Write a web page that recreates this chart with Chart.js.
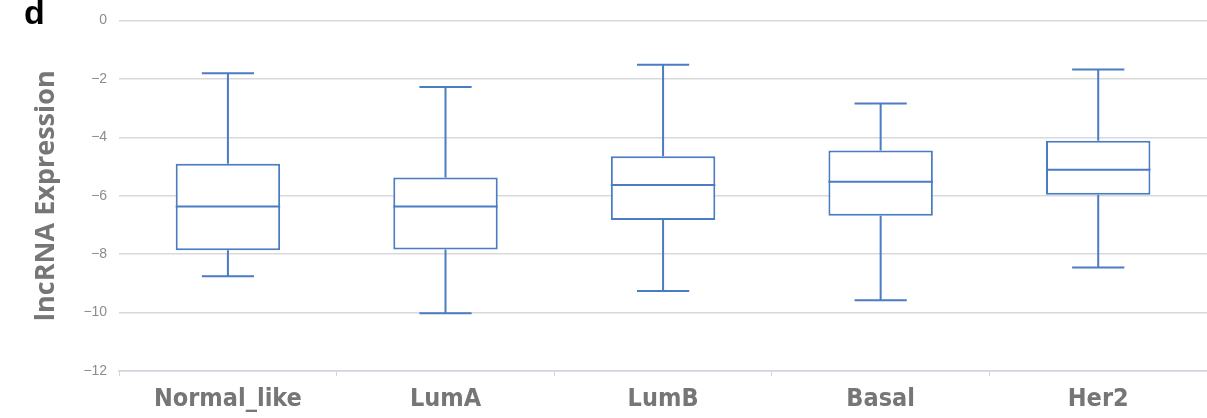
<!DOCTYPE html>
<html>
<head>
<meta charset="utf-8">
<script src="https://cdn.jsdelivr.net/npm/chart.js@4/dist/chart.umd.min.js"></script>
<style>
  html, body { margin: 0; padding: 0; background: #fff; }
  #wrap { position: relative; width: 1207px; height: 418px; }
  #panel { position: absolute; left: 24px; top: -7px; font: bold 34px "Liberation Sans", Arial, sans-serif; color: #000; }
</style>
</head>
<body>
<div id="wrap">
  <canvas id="boxChart" width="1207" height="418"></canvas>
  <div id="panel">d</div>
</div>
<script>
// Subtypes and box-plot summary values
const subtypes = ['Normal_like', 'LumA', 'LumB', 'Basal', 'Her2'];
const whiskerMax = [-1.81, -2.28, -1.52, -2.84, -1.68];
const upperQuartile = [-4.91, -5.38, -4.65, -4.45, -4.12];
const medians = [-6.37, -6.37, -5.63, -5.52, -5.11];
const lowerQuartile = [-7.87, -7.84, -6.83, -6.69, -5.97];
const whiskerMin = [-8.76, -10.02, -9.26, -9.58, -8.46];
const yTicks = [0, -2, -4, -6, -8, -10, -12];

const boxBlue = '#4a7cc3';
const greyText = '#767676';

// Draw whiskers, caps and median lines on top of the floating bars
const whiskerPlugin = {
    id: 'whiskers',
    afterDatasetsDraw(chart) {
        const ctx = chart.ctx;
        const y = chart.scales.y;
        const meta = chart.getDatasetMeta(0);
        ctx.save();
        ctx.strokeStyle = boxBlue;
        ctx.lineWidth = 2;
        meta.data.forEach((bar, i) => {
            const cx = bar.x;
            const half = bar.width / 2;
            const capHalf = half / 2;
            const yMax = y.getPixelForValue(whiskerMax[i]);
            const yQ3 = y.getPixelForValue(upperQuartile[i]);
            const yMed = y.getPixelForValue(medians[i]);
            const yQ1 = y.getPixelForValue(lowerQuartile[i]);
            const yMin = y.getPixelForValue(whiskerMin[i]);
            ctx.beginPath();
            ctx.moveTo(cx, yMax); ctx.lineTo(cx, yQ3);
            ctx.moveTo(cx, yQ1); ctx.lineTo(cx, yMin);
            ctx.moveTo(cx - capHalf, yMax); ctx.lineTo(cx + capHalf, yMax);
            ctx.moveTo(cx - capHalf, yMin); ctx.lineTo(cx + capHalf, yMin);
            ctx.moveTo(cx - half, yMed); ctx.lineTo(cx + half, yMed);
            ctx.stroke();
        });
        ctx.restore();
    }
};

const ctxBox = document.getElementById('boxChart').getContext('2d');

const boxChart = new Chart(ctxBox, {
    type: 'bar',
    data: {
        labels: subtypes,
        datasets: [{
            label: 'lncRNA Expression',
            data: subtypes.map((s, i) => [lowerQuartile[i], upperQuartile[i]]),
            backgroundColor: '#ffffff',
            borderColor: boxBlue,
            borderWidth: 2,
            borderSkipped: false,
            categoryPercentage: 1,
            barPercentage: 0.48
        }]
    },
    options: {
        responsive: false,
        animation: false,
        layout: { padding: { top: 7, right: 0, bottom: -4, left: 30 } },
        plugins: {
            legend: { display: false },
            tooltip: { enabled: false }
        },
        scales: {
            x: {
                offset: true,
                grid: {
                    display: true,
                    drawOnChartArea: false,
                    offset: true,
                    tickLength: 5,
                    color: '#cfd6df'
                },
                border: { color: '#cfd6df', width: 1.5 },
                ticks: {
                    color: greyText,
                    padding: 8,
                    font: { family: '"Liberation Sans Narrow", "DejaVu Sans Condensed", sans-serif', size: 25, weight: 'bold' }
                }
            },
            y: {
                min: -12,
                max: 0,
                afterBuildTicks(axis) {
                    axis.ticks = yTicks.map(v => ({ value: v }));
                },
                grid: {
                    color: '#d9d9d9',
                    lineWidth: 1.5,
                    drawTicks: false
                },
                border: { display: false },
                ticks: {
                    color: '#8c8c8c',
                    padding: 12,
                    font: { family: '"Liberation Sans", sans-serif', size: 14 },
                    callback: v => (v < 0 ? '\u2212' + Math.abs(v) : String(v))
                },
                title: {
                    display: true,
                    text: 'lncRNA Expression',
                    color: greyText,
                    padding: { top: 0, bottom: 9 },
                    font: { family: '"Open Sans", sans-serif', size: 27, weight: 'bold' }
                }
            }
        }
    },
    plugins: [whiskerPlugin]
});
</script>
</body>
</html>
